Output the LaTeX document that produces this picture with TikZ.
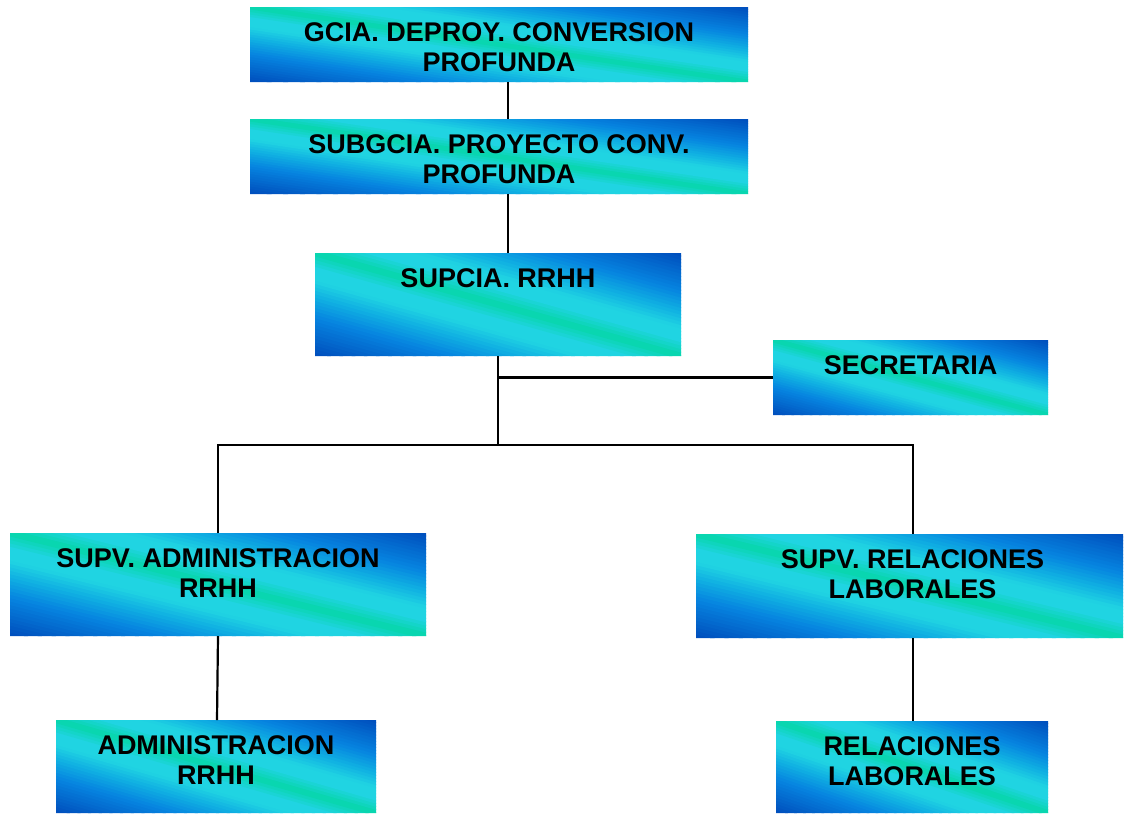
\documentclass[tikz,border=0pt]{standalone}
\usepackage{fontspec}
\setmainfont{Liberation Sans}

% Band colours of the diagonal fill used by every unit box
\definecolor{dkblue}{RGB}{0,78,188}
\definecolor{mdblue}{RGB}{6,132,224}
\definecolor{ltblue}{RGB}{16,176,226}
\definecolor{cyanband}{RGB}{32,212,226}
\definecolor{greenband}{RGB}{6,214,170}

% \setstripcolor{d}: d = 0 on the green diagonal, 1 at the blue corners
\newcommand\setstripcolor[1]{%
  \pgfmathsetmacro\stripD{#1}%
  \ifdim\stripD pt<0.15pt
    \pgfmathsetmacro\stripP{100*(0.15-\stripD)/0.15}\colorlet{stripcol}{greenband!\stripP!cyanband}%
  \else\ifdim\stripD pt<0.27pt
    \colorlet{stripcol}{cyanband}%
  \else\ifdim\stripD pt<0.43pt
    \pgfmathsetmacro\stripP{100*(0.43-\stripD)/0.16}\colorlet{stripcol}{cyanband!\stripP!ltblue}%
  \else\ifdim\stripD pt<0.63pt
    \pgfmathsetmacro\stripP{100*(0.63-\stripD)/0.20}\colorlet{stripcol}{ltblue!\stripP!mdblue}%
  \else
    \pgfmathsetmacro\stripP{100*(1.0-\stripD)/0.37}\colorlet{stripcol}{mdblue!\stripP!dkblue}%
  \fi\fi\fi\fi}

\tikzset{
  unitbox/.style 2 args={rectangle, inner sep=0pt, outer sep=0pt,
    minimum width=#1pt, minimum height=#2pt},
  unitlabel/.style={anchor=north, inner sep=0pt, yshift=-15.3pt, align=center,
    font=\fontsize{27}{30}\selectfont\bfseries},
  link/.style={line width=2.2pt, black},
}

% \unitnode{name}{cx}{cy}{width}{height}{label options}{text}
% Fills the box with strips parallel to its upper-left/lower-right diagonal,
% then places the named node with its title near the top edge.
\newcommand\unitnode[7]{%
  \begin{scope}[shift={(#2-#4/2,#3+#5/2)}, x={(#4pt,0pt)}, y={(0pt,#5pt)}]
    \clip (0,0) rectangle (1,1);
    \foreach \i in {0,...,59} {
      \pgfmathsetmacro\stripA{2*\i/60}%
      \pgfmathsetmacro\stripB{2*(\i+1)/60+0.01}%
      \setstripcolor{abs((\i+0.5)/60-0.5)*2}%
      \fill[stripcol] (\stripA,0) -- (\stripB,0) -- (\stripB-1,1) -- (\stripA-1,1) -- cycle;
    }
  \end{scope}
  \node[unitbox={#4}{#5}, label={[unitlabel,#6]north:#7}] (#1) at (#2,#3) {};
}

\begin{document}
\begin{tikzpicture}[x=1pt, y=-1pt]
\useasboundingbox (0,0) rectangle (1124,814);

\unitnode{gcia}{499}{44.5}{498}{75}{}{GCIA. DEPROY. CONVERSION\\PROFUNDA}
\unitnode{subgcia}{499}{156.5}{498}{75}{}{SUBGCIA. PROYECTO CONV.\\PROFUNDA}
\unitnode{supcia}{498}{304.5}{366}{103}{}{SUPCIA. RRHH}
\unitnode{secre}{910.5}{377.5}{275}{75}{}{SECRETARIA}
\unitnode{supvadm}{218}{584.5}{416}{103}{}{SUPV. ADMINISTRACION\\RRHH}
\unitnode{supvrel}{909.5}{586}{427}{104}{xshift=3pt}{SUPV. RELACIONES\\LABORALES}
\unitnode{adm}{216}{766.5}{320}{93}{}{ADMINISTRACION\\RRHH}
\unitnode{rel}{912}{767}{272}{92}{}{RELACIONES\\LABORALES}

\coordinate (hub) at (498,445);

\draw[link] ([xshift=9pt]gcia.south) -- ([xshift=9pt]subgcia.north);
\draw[link] ([xshift=9pt]subgcia.south) -- ([xshift=10pt]supcia.north);
\draw[link] (supcia.south) -- (hub);
\draw[link] (secre.west) -- (secre.west -| supcia.south);
\draw[link] (supvadm.north) |- (hub) -| ([xshift=3.5pt]supvrel.north);
\draw[link] (supvadm.south) -- ([xshift=1pt]adm.north);
\draw[link] ([xshift=3.5pt]supvrel.south) -- ([xshift=1pt]rel.north);
\end{tikzpicture}
\end{document}
